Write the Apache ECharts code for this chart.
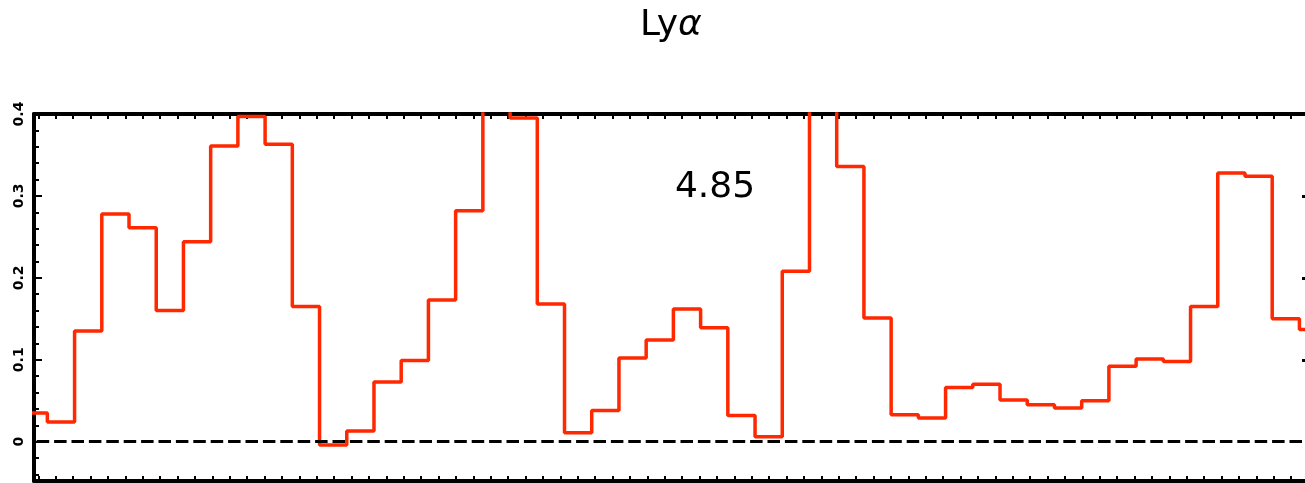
<!DOCTYPE html>
<html>
<head>
<meta charset="utf-8">
<style>
  html, body { margin: 0; padding: 0; background: #fff; }
  #chart { width: 1305px; height: 483px; }
</style>
<script src="https://cdn.jsdelivr.net/npm/echarts@6/dist/echarts.min.js"></script>
</head>
<body>
<div id="chart"></div>
<script>
// Binned Lyα flux: equal-width bins, x measured in frame-tick units
const binLeftEdge = -1.047;
const binWidth = 1.5644;
const fluxValues = [
  0.035, 0.024, 0.135, 0.278, 0.261, 0.160, 0.244, 0.361, 0.397, 0.363,
  0.165, -0.004, 0.013, 0.073, 0.099, 0.173, 0.282, 0.450, 0.395, 0.168,
  0.011, 0.038, 0.102, 0.124, 0.162, 0.139, 0.032, 0.006, 0.208, 0.450,
  0.336, 0.151, 0.033, 0.029, 0.066, 0.070, 0.051, 0.045, 0.041, 0.050,
  0.092, 0.101, 0.098, 0.165, 0.328, 0.324, 0.150, 0.137
];
const yMajorTicks = [0, 0.1, 0.2, 0.3, 0.4];
const yMinorTicks = [-0.04, -0.02, 0.02, 0.04, 0.06, 0.08, 0.12, 0.14, 0.16, 0.18,
                     0.22, 0.24, 0.26, 0.28, 0.32, 0.34, 0.36, 0.38];
const rightTicks = [0.1, 0.2, 0.3];
const panelLabel = '4.85';
const titleText = 'Ly{a|α}';

const xMin = -0.25, xMax = 72.8;
const yMin = -0.048, yMax = 0.4;

// frame ticks every unit along top and bottom edges
const frameTicks = [];
for (let t = 0; t <= Math.floor(xMax); t++) frameTicks.push(t);

// step points at each bin's left edge, plus the closing right edge
const stepPoints = fluxValues.map((v, i) => [binLeftEdge + i * binWidth, v]);
stepPoints.push([binLeftEdge + fluxValues.length * binWidth, fluxValues[fluxValues.length - 1]]);

const chart = echarts.init(document.getElementById('chart'), null, { renderer: 'canvas' });

const frameX = (pos) => ({
  type: 'value', position: pos, min: xMin, max: xMax,
  axisLine: { show: true, onZero: false, lineStyle: { color: '#000', width: 4 } },
  axisTick: { show: true, inside: true, length: 5, customValues: frameTicks,
              lineStyle: { color: '#000', width: 2 } },
  axisLabel: { show: false },
  splitLine: { show: false }
});

chart.setOption({
  animation: false,
  backgroundColor: '#fff',
  title: {
    text: titleText,
    left: 640, top: 8, padding: 0,
    textStyle: {
      fontFamily: 'DejaVu Sans', fontSize: 36, fontWeight: 'normal', color: '#000',
      rich: { a: { fontFamily: 'DejaVu Sans', fontSize: 36, fontStyle: 'italic', color: '#000' } }
    }
  },
  grid: { left: 34, right: 0, top: 114, bottom: 2 },
  xAxis: [frameX('bottom'), frameX('top')],
  yAxis: [
    {
      type: 'value', position: 'left', min: yMin, max: yMax,
      axisLine: { show: true, onZero: false, lineStyle: { color: '#000', width: 4 } },
      axisTick: { show: true, inside: true, length: 8, customValues: yMajorTicks,
                  lineStyle: { color: '#000', width: 2 } },
      axisLabel: { show: true, customValues: yMajorTicks, rotate: 90, margin: 8,
                   fontFamily: 'DejaVu Sans', fontSize: 14, fontWeight: 'bold', color: '#000' },
      splitLine: { show: false }
    },
    {
      type: 'value', position: 'left', min: yMin, max: yMax,
      axisLine: { show: false, onZero: false },
      axisTick: { show: true, inside: true, length: 5, customValues: yMinorTicks,
                  lineStyle: { color: '#000', width: 2 } },
      axisLabel: { show: false },
      splitLine: { show: false }
    },
    {
      type: 'value', position: 'right', min: yMin, max: yMax,
      axisLine: { show: false, onZero: false },
      axisTick: { show: true, inside: true, length: 3, customValues: rightTicks,
                  lineStyle: { color: '#000', width: 3 } },
      axisLabel: { show: false },
      splitLine: { show: false }
    }
  ],
  series: [{
    type: 'line',
    xAxisIndex: 0, yAxisIndex: 0,
    data: stepPoints,
    step: 'end',
    showSymbol: false,
    symbol: 'none',
    clip: true,
    lineStyle: { color: '#ff2800', width: 3.5 },
    markLine: {
      silent: true, symbol: 'none', label: { show: false },
      lineStyle: { color: '#000', width: 3, type: [12.5, 4.9], dashOffset: 14.7 },
      data: [{ yAxis: 0 }]
    },
    z: 3
  }],
  graphic: [{
    type: 'text', x: 715, y: 188,
    style: { text: panelLabel, font: '36px "DejaVu Sans"', fill: '#000',
             textAlign: 'center', textVerticalAlign: 'middle' }
  }]
});
</script>
</body>
</html>
